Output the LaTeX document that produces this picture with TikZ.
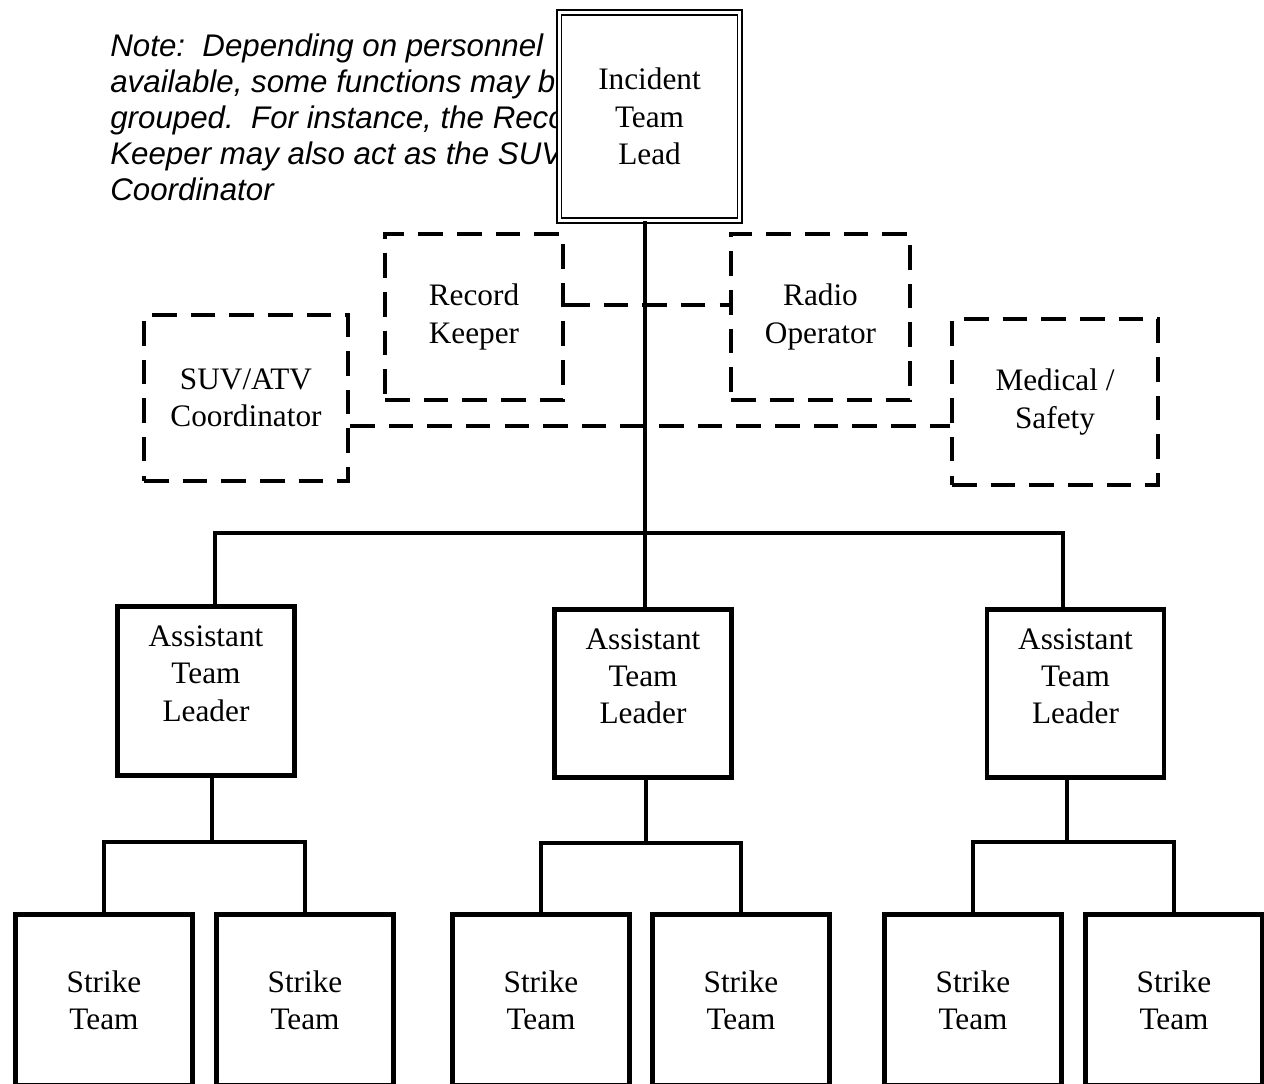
\documentclass[tikz,border=0pt]{standalone}
\usepackage{fontspec}
\setmainfont{Liberation Serif}
\newfontfamily\notefont{Liberation Sans}
\usepackage{tikz}
\tikzset{
    unit/.style={
           rectangle,
           draw=black,
           line width=2.6pt,
           minimum width=3.54cm,
           inner sep=2pt,
           align=center,
           font=\fontsize{17.8}{21.2}\selectfont,
           },
    aide/.style={
           unit,
           line width=2.2pt,
           dash pattern=on 14pt off 8pt,
           minimum width=3.56cm,
           minimum height=3.32cm,
           },
    link/.style={line width=1.9pt},
    dashlink/.style={line width=2.2pt, dash pattern=on 14pt off 8pt},
}

\begin{document}
\begin{tikzpicture}[x=0.02cm,y=-0.02cm]
 \useasboundingbox (0,0) rectangle (1264,1084);

 % note, partly hidden by the lead box
 \node[anchor=north west, inner sep=0pt, align=left,
 font=\notefont\itshape\fontsize{17.8}{20.6}\selectfont] (NOTE) at (110,33)
 {Note:\ \ Depending on personnel\\
  available, some functions may be\\
  grouped.\ \ For instance, the Record\\
  Keeper may also act as the SUV\\
  Coordinator};

 \node[unit, double, line width=1.1pt, double distance=1.7pt, fill=white,
 minimum width=3.62cm, minimum height=4.16cm] (LEAD) at (649.5,116.5)
 {Incident\\Team\\Lead};

 \node[aide] (RECORD) at (474,317) {Record\\Keeper};
 \node[aide, minimum width=3.58cm] (RADIO) at (820.5,317) {Radio\\Operator};
 \node[aide, minimum width=4.08cm] (SUV) at (246,398) {SUV/ATV\\Coordinator};
 \node[aide, minimum width=4.12cm] (MEDIC) at (1055,402) {Medical /\\Safety};

 \node[unit, minimum height=3.37cm, text depth=20pt] (ATL1) at (206,691)
 {Assistant\\Team\\Leader};
 \node[unit, minimum height=3.37cm, text depth=20pt] (ATL2) at (643,693.5)
 {Assistant\\Team\\Leader};
 \node[unit, minimum height=3.37cm, text depth=20pt] (ATL3) at (1075.5,693.5)
 {Assistant\\Team\\Leader};

 \node[unit, minimum height=3.42cm] (ST1) at (104,1000) {Strike\\Team};
 \node[unit, minimum height=3.42cm] (ST2) at (305,1000) {Strike\\Team};
 \node[unit, minimum height=3.42cm] (ST3) at (541,1000) {Strike\\Team};
 \node[unit, minimum height=3.42cm] (ST4) at (741,1000) {Strike\\Team};
 \node[unit, minimum height=3.42cm] (ST5) at (973,1000) {Strike\\Team};
 \node[unit, minimum height=3.42cm] (ST6) at (1174,1000) {Strike\\Team};

 % dashed staff links
 \coordinate (RECJ) at ([yshift=6.8pt]RECORD.east);
 \coordinate (SUVJ) at ([yshift=-15.9pt]SUV.east);
 \draw[dashlink] (RECJ) -- (RECJ -| RADIO.west);
 \draw[dashlink] (SUVJ) -- (SUVJ -| MEDIC.west);

 % chain of command
 \coordinate (TRUNK) at (645,533);
 \coordinate (BUSL) at (215,533);
 \coordinate (BUSR) at (1063,533);
 \draw[link] (LEAD.south -| TRUNK) -- (TRUNK);
 \draw[link] (ATL1.north -| BUSL) |- (BUSR) -- (BUSR |- ATL3.north);
 \draw[link] (TRUNK) -- (TRUNK |- ATL2.north);

 \coordinate (FORK1) at (212,842);
 \coordinate (FORK2) at (646,843);
 \coordinate (FORK3) at (1067,842);
 \draw[link] (ATL1.south -| FORK1) -- (FORK1);
 \draw[link] (ATL2.south -| FORK2) -- (FORK2);
 \draw[link] (ATL3.south -| FORK3) -- (FORK3);
 \draw[link] (ST1.north) |- (FORK1) -| (ST2.north);
 \draw[link] (ST3.north) |- (FORK2) -| (ST4.north);
 \draw[link] (ST5.north) |- (FORK3) -| (ST6.north);
\end{tikzpicture}
\end{document}
